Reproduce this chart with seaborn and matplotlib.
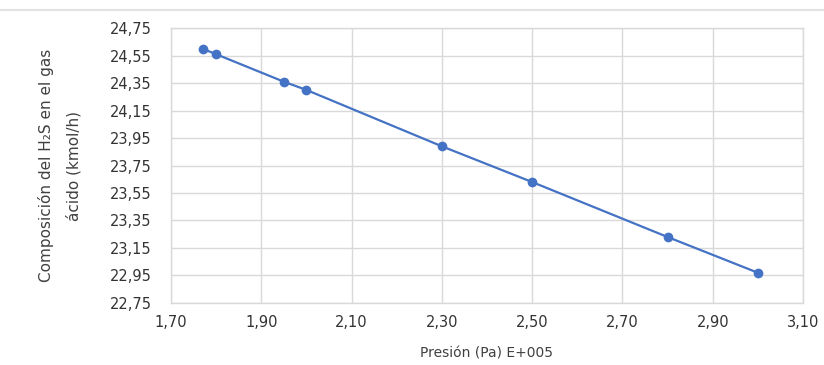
import numpy as np
import pandas as pd
import matplotlib
matplotlib.use("Agg")
import matplotlib.pyplot as plt
from matplotlib.ticker import FuncFormatter
from matplotlib.lines import Line2D
import seaborn as sns

# Datos
presion = [1.77, 1.80, 1.95, 2.00, 2.30, 2.50, 2.80, 3.00]
composicion_h2s = [24.60, 24.56, 24.36, 24.30, 23.89, 23.63, 23.23, 22.97]
x_ticks = [1.70, 1.90, 2.10, 2.30, 2.50, 2.70, 2.90, 3.10]
y_ticks = [22.75, 22.95, 23.15, 23.35, 23.55, 23.75, 23.95, 24.15, 24.35, 24.55, 24.75]

df = pd.DataFrame({"presion": presion, "h2s": composicion_h2s})

sns.set_style("whitegrid")
plt.rcParams["font.family"] = ["DejaVu Sans"]

fig = plt.figure(figsize=(8.24, 3.65), dpi=100)
ax = fig.add_axes([0.2075, 0.170, 0.767, 0.753])

sns.lineplot(data=df, x="presion", y="h2s", ax=ax, color="#4472C4",
             marker="o", markersize=7, markeredgewidth=0, linewidth=1.6)

ax.set_xlim(x_ticks[0], x_ticks[-1])
ax.set_ylim(y_ticks[0], y_ticks[-1])
ax.set_xticks(x_ticks)
ax.set_yticks(y_ticks)

coma = FuncFormatter(lambda v, pos: f"{v:.2f}".replace(".", ","))
ax.xaxis.set_major_formatter(coma)
ax.yaxis.set_major_formatter(coma)
ax.tick_params(axis="both", labelsize=10.5, colors="#333333", length=0)
ax.tick_params(axis="y", pad=14)
ax.tick_params(axis="x", pad=9)

ax.grid(True, color="#D9D9D9", linewidth=1.0)
for s in ax.spines.values():
    s.set_color("#D9D9D9")
    s.set_linewidth(1.0)

ax.set_xlabel("Presión (Pa) E+005", fontsize=10, color="#404040")
ax.xaxis.set_label_coords(0.5, -0.16)
ax.set_ylabel("Composición del H₂S en el gas\nácido (kmol/h)",
              fontsize=11, color="#404040", linespacing=1.9)
ax.yaxis.set_label_coords(-0.142, 0.5)

# línea gris superior del marco del gráfico
fig.add_artist(Line2D([0.0, 1.0], [0.972, 0.972], transform=fig.transFigure,
                      color="#E3E3E3", linewidth=1.5))

fig.savefig("out.png", dpi=100)
